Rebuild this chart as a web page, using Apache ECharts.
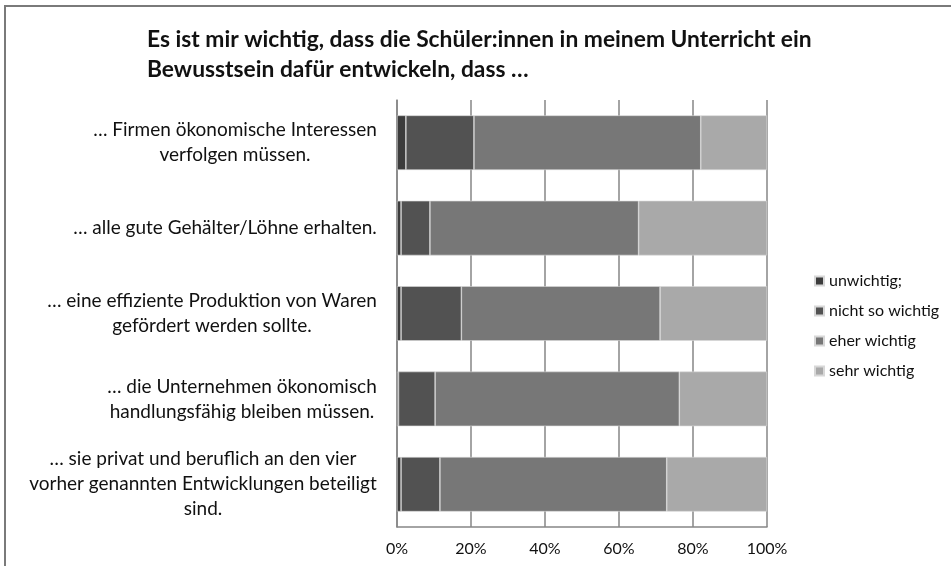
<!DOCTYPE html>
<html>
<head>
<meta charset="utf-8">
<script src="https://cdn.jsdelivr.net/npm/echarts@6/dist/echarts.min.js"></script>
<style>
  html, body { margin: 0; padding: 0; background: #fff; }
  #chart { width: 951px; height: 566px; }
</style>
</head>
<body>
<div id="chart"></div>
<script>
// Daten (Anteile in %)
const categories = [
  '… Firmen ökonomische Interessen\nverfolgen müssen.',
  '… alle gute Gehälter/Löhne erhalten.',
  '… eine effiziente Produktion von Waren\ngefördert werden sollte.',
  '… die Unternehmen ökonomisch\nhandlungsfähig bleiben müssen.',
  '… sie privat und beruflich an den vier\nvorher genannten Entwicklungen beteiligt\nsind.'
];
const seriesNames = ['unwichtig;', 'nicht so wichtig', 'eher wichtig', 'sehr wichtig'];
const unwichtig     = [2.4, 1.1, 1.1, 0.4, 1.1];
const nichtSo       = [18.4, 7.8, 16.3, 9.9, 10.5];
const eherWichtig   = [61.3, 56.4, 53.7, 66.0, 61.3];
const sehrWichtig   = [17.9, 34.7, 28.9, 23.7, 27.1];
const colors = ['#3c3c3c', '#525252', '#777777', '#a9a9a9'];

const FONT = 'Lato';
const labelSize = 19;

// Breite der längsten Zeile je Beschriftung messen (Zeilen zentriert, Block rechtsbündig)
const ctx = document.createElement('canvas').getContext('2d');
ctx.font = labelSize + 'px ' + FONT;
const rich = {};
categories.forEach((c, i) => {
  const w = Math.max(...c.split('\n').map(l => ctx.measureText(l).width));
  rich['c' + i] = { width: Math.ceil(w) + 2, align: 'center', fontSize: labelSize, fontFamily: FONT, color: '#111', lineHeight: 25 };
});

const chart = echarts.init(document.getElementById('chart'));
const data = [unwichtig, nichtSo, eherWichtig, sehrWichtig];

chart.setOption({
  animation: false,
  textStyle: { fontFamily: FONT },
  title: {
    text: 'Es ist mir wichtig, dass die Schüler:innen in meinem Unterricht ein\nBewusstsein dafür entwickeln, dass …',
    left: 142,
    top: 20,
    textStyle: { fontSize: 22.8, fontWeight: 'bold', color: '#111', lineHeight: 30, fontFamily: FONT }
  },
  graphic: [{
    type: 'rect',
    shape: { x: 5, y: 6, width: 1000, height: 600 },
    style: { fill: 'none', stroke: '#7a7a7a', lineWidth: 2 },
    silent: true
  }],
  legend: {
    orient: 'vertical',
    left: 809,
    top: 267,
    itemWidth: 9,
    itemHeight: 9,
    itemGap: 12,
    icon: 'rect',
    textStyle: { fontSize: 16, color: '#111', fontFamily: FONT, lineHeight: 18 },
    data: seriesNames
  },
  grid: { left: 397, right: 184, top: 100, bottom: 39 },
  xAxis: {
    type: 'value',
    min: 0,
    max: 100,
    interval: 20,
    axisLabel: { formatter: '{value}%', fontSize: 16, color: '#111', margin: 14 },
    axisLine: { show: true, lineStyle: { color: '#868686', width: 1.5 } },
    axisTick: { show: false },
    splitLine: { show: true, lineStyle: { color: '#868686', width: 1.5 } }
  },
  yAxis: {
    type: 'category',
    inverse: true,
    data: categories,
    axisLine: { show: true, lineStyle: { color: '#868686', width: 1.5 } },
    axisTick: { show: false },
    axisLabel: {
      margin: 19,
      align: 'right',
      formatter: (v, i) => v.split('\n').map(l => '{c' + i + '|' + l + '}').join('\n'),
      rich: rich
    }
  },
  series: seriesNames.map((n, k) => ({
    name: n,
    type: 'bar',
    stack: 'total',
    barWidth: '64%',
    data: data[k],
    itemStyle: { color: colors[k], borderColor: '#d8d8d8', borderWidth: 0.6 }
  }))
});
</script>
</body>
</html>
